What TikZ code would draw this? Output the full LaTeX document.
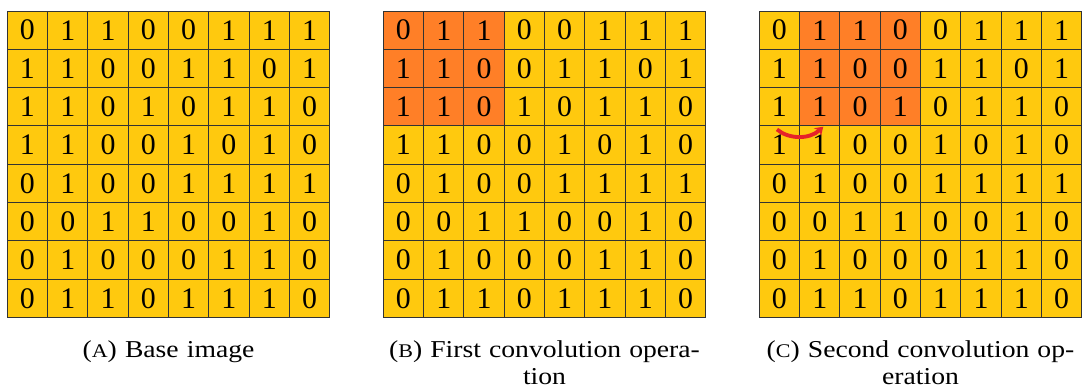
\documentclass[tikz,border=0pt]{standalone}
\usepackage{fontspec}
\setmainfont{Liberation Serif}
\usetikzlibrary{arrows.meta}
\definecolor{gridgold}{HTML}{FFC90E}
\definecolor{kernelorange}{HTML}{FF7F27}
\definecolor{arrowred}{HTML}{E62229}
\tikzset{
  cell/.style={draw=black!80, line width=0.55pt, minimum width=0.806cm, minimum height=0.766cm,
    inner sep=0pt, outer sep=0pt, font=\fontsize{17}{20}\selectfont},
  capt/.style={text width=7cm, align=center, anchor=base,
    font=\fontsize{13.8}{15.9}\selectfont\addfontfeature{FakeStretch=1.14}},
  slide/.style={arrowred, line width=2.2pt, -{Stealth[length=4.5pt,width=6pt]}}
}
\newcommand{\fakesc}[1]{{\fontsize{11}{12}\selectfont #1}}

\begin{document}
\begin{tikzpicture}[x=0.02cm,y=-0.02cm]
\useasboundingbox (0,0) rectangle (1084,390);
\def\cw{40.3}
\def\ch{38.3}
\def\oy{11}

\foreach \g/\ox/\hx in {A/7.3/0,B/383.3/1,C/759.3/2}{
  \foreach \row [count=\r] in {{0,1,1,0,0,1,1,1},{1,1,0,0,1,1,0,1},{1,1,0,1,0,1,1,0},{1,1,0,0,1,0,1,0},
                               {0,1,0,0,1,1,1,1},{0,0,1,1,0,0,1,0},{0,1,0,0,0,1,1,0},{0,1,1,0,1,1,1,0}}{
    \foreach \v [count=\c] in \row{
      \pgfmathtruncatemacro\hot{(\hx>0)&&(\c>=\hx)&&(\c<=\hx+2)&&(\r<=3)}
      \ifnum\hot=1 \def\fc{kernelorange}\else\def\fc{gridgold}\fi
      \node[cell,fill=\fc] (\g-\r-\c) at ({\ox+(\c-0.5)*\cw},{\oy+(\r-0.5)*\ch}) {\v};
    }
  }
}

\coordinate (S1) at ([shift={(-2.5,3.5)}]C-4-1.north);
\coordinate (S2) at ([shift={(3.5,0.8)}]C-4-2.north);
\draw[slide] (S1) .. controls (788,139) and (809,140) .. (S2);

\node[capt] (capA) at (168.5,357) {(\fakesc{A}) Base image};
\node[capt] (capB) at (544.5,357) {(\fakesc{B}) First convolution opera-\\tion};
\node[capt] (capC) at (920.5,357) {(\fakesc{C}) Second convolution op-\\eration};

\end{tikzpicture}
\end{document}
